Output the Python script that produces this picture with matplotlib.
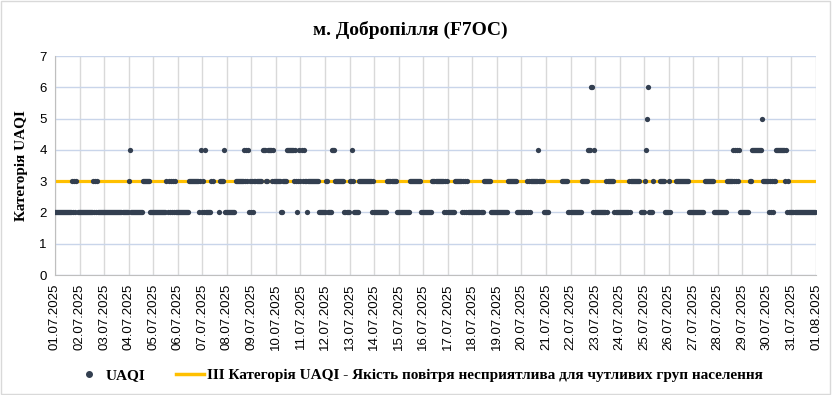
import numpy as np
import matplotlib.pyplot as plt
from matplotlib.lines import Line2D
from matplotlib.patches import Rectangle

cat2_hours = [(0, 71), (74, 85), (93, 130), (141, 152), (160, 160), (166, 175), (190, 194),
              (221, 222), (237, 239), (245, 247), (258, 270), (283, 297), (309, 324), (333, 347),
              (357, 369), (380, 391), (398, 418), (425, 443), (452, 465), (477, 482), (501, 514),
              (524, 540), (547, 562), (573, 585), (596, 601), (619, 635), (643, 656), (670, 678),
              (698, 702), (716, 743)]
cat3_hours = [(16, 21), (36, 42), (72, 72), (86, 92), (108, 118), (131, 145), (153, 154),
              (161, 164), (177, 201), (206, 207), (212, 227), (233, 257), (265, 266), (273, 282),
              (288, 289), (291, 291), (296, 311), (325, 333), (347, 358), (368, 383), (391, 403),
              (418, 425), (443, 452), (461, 478), (496, 501), (514, 521), (539, 546), (561, 571),
              (577, 577), (585, 585), (591, 595), (600, 600), (607, 620), (635, 643), (656, 670),
              (678, 681), (692, 704), (713, 717)]
cat4_hours = [(73, 73), (141, 147), (165, 165), (184, 189), (203, 213), (227, 244), (271, 274),
              (290, 290), (472, 472), (521, 527), (578, 578), (662, 669), (681, 690),
              (705, 715)]
cat5_hours = [(579, 579), (691, 691)]
cat6_hours = [(524, 525), (580, 580)]

threshold = 3
n_hours = 744
day_labels = [f"{d:02d}.07.2025" for d in range(1, 32)] + ["01.08.2025"]

levels = {2: cat2_hours, 3: cat3_hours, 4: cat4_hours, 5: cat5_hours, 6: cat6_hours}

# one value per hour; short isolated readings win, overlapping runs alternate
uaqi = np.full(n_hours, np.nan)
for h in range(n_hours):
    short, longer = [], []
    for lev, ranges in levels.items():
        for a, b in ranges:
            if a <= h <= b:
                (short if b - a <= 1 else longer).append(lev)
    cands = short or longer
    if cands:
        uaqi[h] = cands[h % len(cands)]
hours = np.arange(n_hours)

serif = 'Liberation Serif'
sans = 'Liberation Sans'

fig = plt.figure(figsize=(8.32, 3.95), dpi=100)
ax = fig.add_axes([55 / 832, 120 / 395, 761 / 832, 219 / 395])

ax.axhline(threshold, color='#FFC000', lw=2.3, zorder=2)
ax.plot(hours, uaqi, 'o', color='#333F50', ms=3.8, mew=0, zorder=3)

ax.set_xlim(0, n_hours)
ax.set_ylim(0, 7)
ax.set_xticks(np.arange(0, n_hours + 1, 24))
ax.set_xticklabels(day_labels, rotation=90, fontfamily=sans, fontsize=9.5)
ax.set_yticks(range(8))
ax.set_yticklabels([str(i) for i in range(8)], fontfamily=sans, fontsize=9.5)
ax.tick_params(length=0, pad=6)
ax.xaxis.grid(True, color='#D9D9D9', lw=1)
ax.yaxis.grid(True, color='#C9D5EA', lw=1)
ax.set_axisbelow(True)
for s in ['top', 'right']:
    ax.spines[s].set_visible(False)
for s in ['left', 'bottom']:
    ax.spines[s].set_color('#BFBFBF')

ax.set_ylabel('Категорія UAQI', fontfamily=serif, fontweight='bold', fontsize=11, labelpad=8)
fig.text(0.493, 0.925, 'м. Добропілля (F7OC)', ha='center', va='center',
         fontfamily=serif, fontweight='bold', fontsize=14)

handles = [Line2D([], [], marker='o', ls='none', color='#333F50', ms=4),
           Line2D([], [], color='#FFC000', lw=2.5)]
fig.legend(handles, ['UAQI', 'III Категорія UAQI - Якість повітря несприятлива для чутливих груп населення'],
           loc='center', bbox_to_anchor=(419 / 832, 1 - 375 / 395), ncol=2, frameon=False,
           prop={'family': serif, 'weight': 'bold', 'size': 11},
           handlelength=1.8, handletextpad=0.2, columnspacing=2)

fig.patches.append(Rectangle((0.001, 0.002), 0.997, 0.995, transform=fig.transFigure,
                             fill=False, edgecolor='#D9D9D9', lw=1))

fig.savefig('out.png', dpi=100)
